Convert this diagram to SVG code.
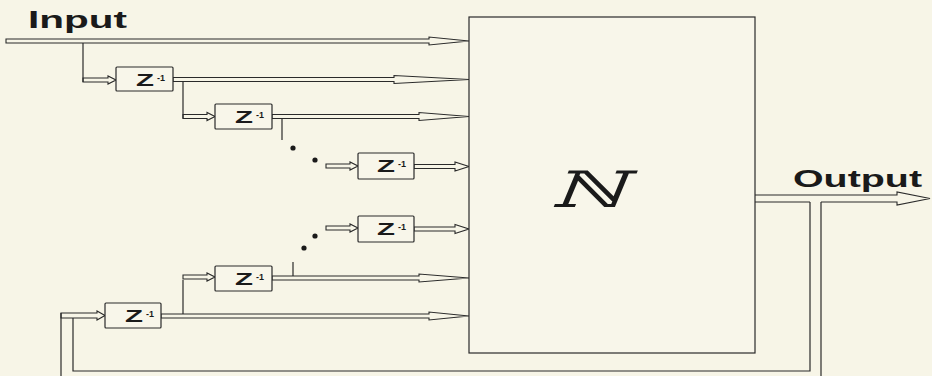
<svg xmlns="http://www.w3.org/2000/svg" width="932" height="376" viewBox="0 0 932 376">
<style>
.ln{fill:none;stroke:#2a2a2a;stroke-width:1.2}
.ar{fill:#f7f5e7;stroke:#2a2a2a;stroke-width:1.1;stroke-linejoin:miter}
.bx{fill:#f8f6ea;stroke:#2a2a2a;stroke-width:1.2}
.z{font-family:"Liberation Sans",Arial,sans-serif;font-weight:bold;font-size:17px;fill:#1a1a1a}
.s{font-family:"Liberation Sans",Arial,sans-serif;font-weight:bold;font-size:9px;fill:#1a1a1a}
.lbl{font-family:"Liberation Sans",Arial,sans-serif;font-weight:bold;font-size:23px;fill:#1a1a1a}
.dot{fill:#1a1a1a}
</style>
<rect x="0" y="0" width="932" height="376" fill="#f7f5e7"/>

<g id="connectors">
  <!-- long arrows into N -->
  <polygon class="ar" points="6,39 429,39 429,37 469,41 429,45 429,43 6,43"/>
  <polygon class="ar" points="173,77.5 394,77.5 394,75.5 469,79.5 394,83.5 394,81.5 173,81.5"/>
  <polygon class="ar" points="272,114.5 419,114.5 419,112.5 469,116.5 419,120.5 419,118.5 272,118.5"/>
  <polygon class="ar" points="414,164.5 455,164.5 455,162 469,166.5 455,171 455,168.5 414,168.5"/>
  <polygon class="ar" points="414,227 455,227 455,224.5 469,229 455,233.5 455,231 414,231"/>
  <polygon class="ar" points="272,276 419,276 419,274 469,278 419,282 419,280 272,280"/>
  <polygon class="ar" points="161,314 429,314 429,312 469,316 429,320 429,318 161,318"/>
  <!-- small arrows into delay boxes -->
  <polygon class="ar" points="83,78 108,78 108,76 116,80 108,84 108,82 83,82"/>
  <polygon class="ar" points="183,114.5 207,114.5 207,112.5 215,116.5 207,120.5 207,118.5 183,118.5"/>
  <polygon class="ar" points="326,164 350,164 350,162 358,166 350,170 350,168 326,168"/>
  <polygon class="ar" points="326,226 350,226 350,224 358,228 350,232 350,230 326,230"/>
  <polygon class="ar" points="183,275 207,275 207,273 215,277 207,281 207,279 183,279"/>
  <polygon class="ar" points="61,313 97,313 97,311 105,315.5 97,320 97,318 73,318 61,318"/>
  <!-- taps -->
  <path class="ln" d="M83,43 V82"/>
  <path class="ln" d="M183,81.5 V118.5"/>
  <path class="ln" d="M282,118.5 V140"/>
  <path class="ln" d="M293,262 V276"/>
  <path class="ln" d="M183,280 V314"/>
  <!-- output arrow -->
  <path class="ar" d="M755,195 H897 V192 L930,198.5 L897,205 V202 H821 M810,202 H755"/>
  <!-- feedback -->
  <path class="ln" d="M810,202 V371 H73 V318"/>
  <path class="ln" d="M821,202 V376"/>
  <path class="ln" d="M61,313 V376"/>
</g>

<g id="dots">
  <circle class="dot" cx="293" cy="148" r="2.6"/>
  <circle class="dot" cx="315" cy="160" r="2.6"/>
  <circle class="dot" cx="315" cy="236" r="2.6"/>
  <circle class="dot" cx="304" cy="248" r="2.6"/>
</g>

<g id="N">
  <rect class="bx" x="469" y="17" width="286" height="336"/>
  <text x="550" y="207" font-family="'DejaVu Serif',serif" font-style="italic" font-size="50" textLength="76" lengthAdjust="spacingAndGlyphs" fill="#1a1a1a">ℕ</text>
</g>

<g id="z1"><rect class="bx" x="116" y="67" width="57" height="24" rx="1"/><text class="z" x="136" y="86" textLength="18" lengthAdjust="spacingAndGlyphs">Z</text><text class="s" x="157" y="81">-1</text></g>
<g id="z2"><rect class="bx" x="215" y="104" width="57" height="25" rx="1"/><text class="z" x="235" y="123" textLength="18" lengthAdjust="spacingAndGlyphs">Z</text><text class="s" x="256" y="118">-1</text></g>
<g id="z3"><rect class="bx" x="358" y="153" width="56" height="26" rx="1"/><text class="z" x="377" y="172" textLength="18" lengthAdjust="spacingAndGlyphs">Z</text><text class="s" x="398" y="167">-1</text></g>
<g id="z4"><rect class="bx" x="358" y="216" width="56" height="26" rx="1"/><text class="z" x="377" y="235" textLength="18" lengthAdjust="spacingAndGlyphs">Z</text><text class="s" x="398" y="230">-1</text></g>
<g id="z5"><rect class="bx" x="215" y="266" width="57" height="25" rx="1"/><text class="z" x="235" y="285" textLength="18" lengthAdjust="spacingAndGlyphs">Z</text><text class="s" x="256" y="280">-1</text></g>
<g id="z6"><rect class="bx" x="105" y="303" width="56" height="25" rx="1"/><text class="z" x="125" y="322" textLength="18" lengthAdjust="spacingAndGlyphs">Z</text><text class="s" x="146" y="317">-1</text></g>

<g id="labels">
  <text class="lbl" x="28" y="28" textLength="99" lengthAdjust="spacingAndGlyphs">Input</text>
  <text class="lbl" x="793" y="187" textLength="129" lengthAdjust="spacingAndGlyphs">Output</text>
</g>
</svg>
